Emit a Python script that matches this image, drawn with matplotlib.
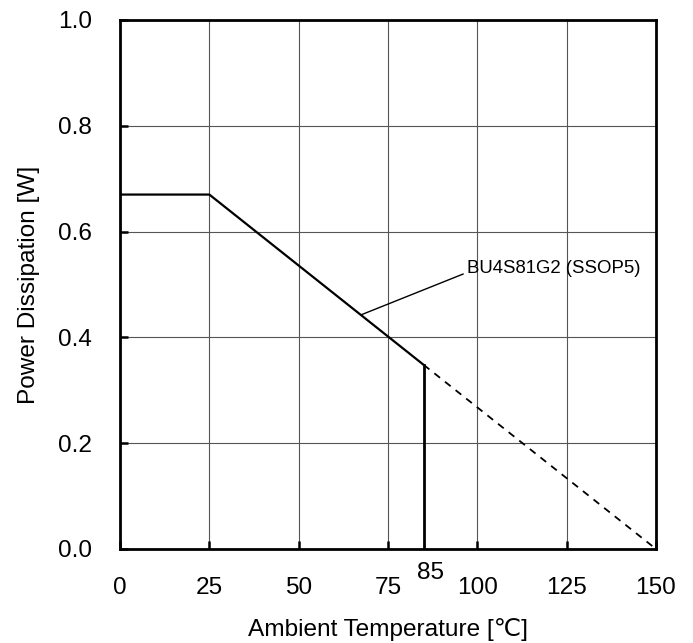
import numpy as np
import matplotlib
matplotlib.use('Agg')
import matplotlib.pyplot as plt

plt.rcParams['font.family'] = ['Liberation Sans', 'DejaVu Sans']

# derating curve (solid up to 85 degC, dashed beyond)
temp_solid = [0, 25, 85]
pd_solid = [0.67, 0.67, 0.348]
temp_dash = [85, 150]
pd_dash = [0.348, 0.0]
temp_max = 85

x_ticks = [0, 25, 50, 75, 100, 125, 150]
y_ticks = [0.0, 0.2, 0.4, 0.6, 0.8, 1.0]
part_label = 'BU4S81G2 (SSOP5)'

fig = plt.figure(figsize=(6.93, 6.43), dpi=100)
ax = fig.add_axes([0.1732, 0.1462, 0.7734, 0.8227])

ax.plot(temp_solid, pd_solid, color='black', lw=1.6, solid_capstyle='butt')
ax.plot(temp_dash, pd_dash, color='black', lw=1.3, ls=(0, (4, 3.5)))
ax.plot([temp_max, temp_max], [0, pd_solid[-1]], color='black', lw=2.0)

ax.set_xlim(0, 150)
ax.set_ylim(0, 1.0)
ax.set_xticks(x_ticks)
ax.set_yticks(y_ticks)
ax.set_yticklabels([f'{v:.1f}' for v in y_ticks])
ax.grid(True, color='#555555', lw=0.8)
ax.set_axisbelow(True)

for s in ax.spines.values():
    s.set_linewidth(2.0)

ax.tick_params(direction='in', length=6, width=1.8, labelsize=17.6)
ax.tick_params(axis='x', pad=20)
ax.tick_params(axis='y', pad=20)

ax.set_xlabel('Ambient Temperature [℃]', fontsize=17.6, labelpad=14)
ax.set_ylabel('Power Dissipation [W]', fontsize=17.6, labelpad=13)

# 85 marker label just under the axis
ax.text(86.8, -0.024, '85', ha='center', va='top', fontsize=17.6)

# part label with leader line
ax.annotate(part_label, xy=(67.6, 0.443), xytext=(97.2, 0.531),
            fontsize=13.4, ha='left', va='center',
            arrowprops=dict(arrowstyle='-', color='black', lw=1.0,
                            shrinkA=1, shrinkB=0, relpos=(0, 0.25)))

fig.savefig('out.png', dpi=100)
